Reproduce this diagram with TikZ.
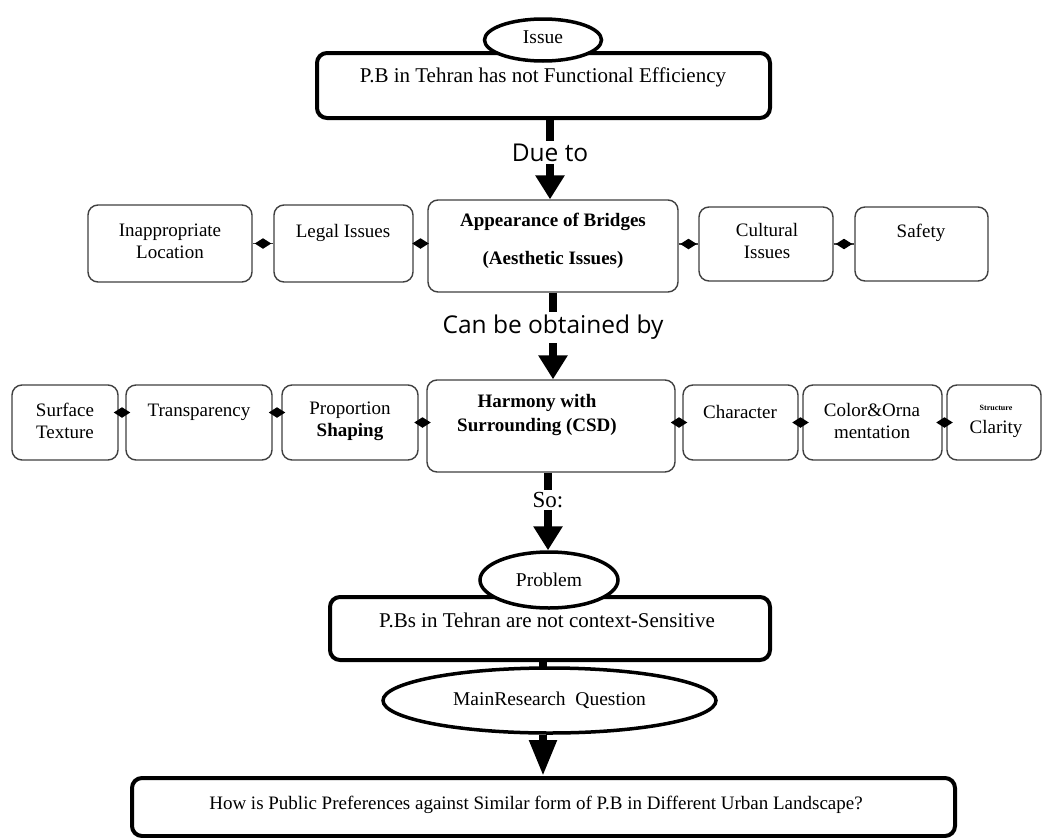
\documentclass[tikz,border=0pt]{standalone}
\usepackage{fontspec}
\setmainfont{Liberation Serif}
\newfontfamily\labfont{Open Sans}
\usetikzlibrary{arrows.meta,shapes.geometric,calc}
\begin{document}
\begin{tikzpicture}[x=1pt,y=-1pt,
  txt/.style={font=\fontsize{19}{22}\selectfont, align=center, inner sep=0pt},
  ltxt/.style={txt, font=\fontsize{21}{24}\selectfont},
  btxt/.style={txt, font=\fontsize{19}{22}\selectfont\bfseries},
  sbox/.style={draw=black!75, line width=1.4pt, rounded corners=10pt, fill=white, inner sep=0pt},
  tbox/.style={draw=black, line width=4pt, rounded corners=10pt, fill=white, inner sep=0pt},
  ell/.style={ellipse, draw=black, line width=3.5pt, fill=white, inner sep=0pt, font=\fontsize{19.5}{22}\selectfont},
  bigarrow/.style={line width=8pt, -{Triangle[length=24pt,width=28pt]}},
  thickline/.style={line width=8pt},
  link/.style={draw=black!75, line width=1.2pt},
  dmd/.style={diamond, fill=black, minimum width=17pt, minimum height=11pt, inner sep=0pt},
  lab/.style={fill=white, inner sep=3pt, font=\labfont\fontsize{24.5}{26}\selectfont},
  slab/.style={fill=white, inner sep=2pt, font=\fontsize{23}{24}\selectfont}
]
\useasboundingbox[fill=white] (0,0) rectangle (1042,838);

% column coordinates for the vertical connectors
\coordinate (c1) at (550,0);
\coordinate (c2) at (553,0);
\coordinate (c3) at (548,0);
\coordinate (c4) at (543,0);

% Issue
\node[tbox, minimum width=453pt, minimum height=65pt] (top) at (543.5,85.5) {};
\node[ltxt] (topT) at (543,77) {P.B in Tehran has not Functional Efficiency};
\node[ell, minimum width=117pt, minimum height=42pt] (issue) at (543,40) {\raisebox{5pt}{Issue}};

% Row 1
\node[sbox, minimum width=164pt, minimum height=77pt] (inapp) at (170,243.5) {};
\node[sbox, minimum width=139pt, minimum height=77pt] (legal) at (343.5,243.5) {};
\node[sbox, minimum width=250pt, minimum height=92pt] (appear) at (553,246) {};
\node[sbox, minimum width=134pt, minimum height=74pt] (cultural) at (766,244) {};
\node[sbox, minimum width=133pt, minimum height=74pt] (safety) at (921.5,244) {};

\node[txt] (inappT) at (170,241) {Inappropriate\\Location};
\node[txt] (legalT) at (343,233) {Legal Issues};
\node[btxt] (appearT) at (553,241) {Appearance of Bridges\\[16pt](Aesthetic Issues)};
\node[txt] (culturalT) at (767,241) {Cultural\\Issues};
\node[txt] (safetyT) at (921,233) {Safety};

\draw[link] (inapp.east) -- node[dmd] (d1) {} (inapp.east -| legal.west);
\draw[link] (legal.east) -- node[dmd] (d2) {} (legal.east -| appear.west);
\draw[link] (appear.east |- cultural.west) -- node[dmd] (d3) {} (cultural.west);
\draw[link] (cultural.east) -- node[dmd] (d4) {} (safety.west);

% Row 2
\node[sbox, minimum width=106pt, minimum height=75pt] (surface) at (65,422.5) {};
\node[sbox, minimum width=146pt, minimum height=75pt] (transp) at (199,422.5) {};
\node[sbox, minimum width=136pt, minimum height=75pt] (proport) at (350,422.5) {};
\node[sbox, minimum width=248pt, minimum height=92pt] (harmony) at (551,426) {};
\node[sbox, minimum width=115pt, minimum height=75pt] (character) at (740.5,422.5) {};
\node[sbox, minimum width=139pt, minimum height=75pt] (color) at (872.5,422.5) {};
\node[sbox, minimum width=94pt, minimum height=75pt] (struct) at (994,422.5) {};

\node[txt] (surfaceT) at (65,421) {Surface\\Texture};
\node[txt] (transpT) at (199,412) {Transparency};
\node[txt] (proportT) at (350,421) {Proportion\\\textbf{Shaping}};
\node[btxt] (harmonyT) at (537,415) {Harmony with\\[2pt]Surrounding (CSD)};
\node[txt] (characterT) at (740,412) {Character};
\node[txt] (colorT) at (872,421) {Color\&Orna\\mentation};
\node[txt, font=\fontsize{8}{9}\selectfont\bfseries] (structT) at (996,408) {Structure};
\node[txt] (clarityT) at (996,429) {Clarity};

\draw[link] ([yshift=10pt]surface.east) -- node[dmd] (d5) {} ([yshift=10pt]transp.west);
\draw[link] ([yshift=10pt]transp.east) -- node[dmd] (d6) {} ([yshift=10pt]proport.west);
\draw[link] (proport.east) -- node[dmd] (d7) {} (proport.east -| harmony.west);
\draw[link] (harmony.east |- character.west) -- node[dmd] (d8) {} (character.west);
\draw[link] (character.east) -- node[dmd] (d9) {} (color.west);
\draw[link] (color.east) -- node[dmd] (d10) {} (struct.west);

% Problem
\node[tbox, minimum width=440pt, minimum height=63pt] (problem) at (550,628.5) {};
\node[ltxt] (problemT) at (547,620) {P.Bs in Tehran are not context-Sensitive};
\node[ell, minimum width=138pt, minimum height=56pt] (problemE) at (549,580) {Problem};

% Main research question
\node[ell, minimum width=333pt, minimum height=65pt] (mainE) at (549.5,700.5) {MainResearch\ \ Question};
\node[tbox, minimum width=823pt, minimum height=58pt] (bottom) at (543.5,807) {};
\node[txt] (bottomT) at (536,805) {How is Public Preferences against Similar form of P.B in Different Urban Landscape?};

% vertical arrows
\draw[bigarrow] (top.south -| c1) -- node[lab, pos=0.41] (due) {Due to} (appear.north -| c1);
\draw[bigarrow] (appear.south -| c2) -- node[lab, pos=0.40] (can) {Can be obtained by} (harmony.north -| c2);
\draw[bigarrow] (harmony.south -| c3) -- node[slab, pos=0.35] (so) {So:} (problemE.north -| c3);
\draw[thickline] (problem.south -| c4) -- ($(mainE.north -| c4)+(0,2)$);
\draw[line width=8pt, -{Triangle[length=36pt,width=26pt]}] (mainE.south -| c4) -- (bottom.north -| c4);
\end{tikzpicture}
\end{document}
